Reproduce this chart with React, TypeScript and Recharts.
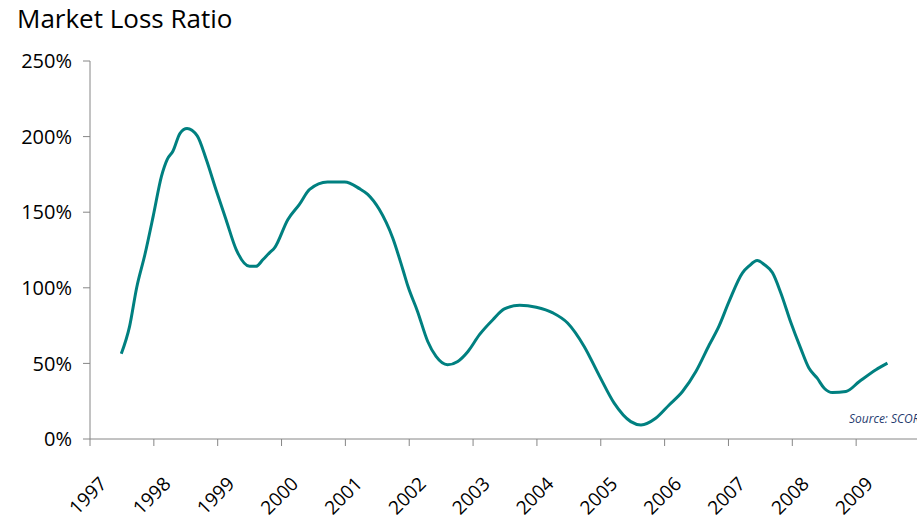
import { LineChart, Line, XAxis, YAxis } from "recharts";

// time positions (fractional years) and market loss ratio in %
const periods = [
  1997.49, 1997.62, 1997.73, 1997.86, 1997.99, 1998.12, 1998.21, 1998.3, 1998.41, 1998.52,
  1998.68, 1998.82, 1998.98, 1999.13, 1999.29, 1999.5, 1999.6, 1999.71, 1999.81, 1999.89,
  2000.1, 2000.28, 2000.44, 2000.72, 2000.99, 2001.22, 2001.35, 2001.53, 2001.74, 2001.9,
  2001.98, 2002.13, 2002.29, 2002.42, 2002.6, 2002.76, 2002.92, 2003.1, 2003.31, 2003.49,
  2003.73, 2003.99, 2004.25, 2004.48, 2004.74, 2004.98, 2005.21, 2005.47, 2005.63, 2005.86,
  2006.07, 2006.28, 2006.49, 2006.7, 2006.85, 2007.01, 2007.22, 2007.32, 2007.45, 2007.56,
  2007.69, 2007.82, 2007.98, 2008.13, 2008.26, 2008.39, 2008.5, 2008.63, 2008.84, 2009.05,
  2009.31, 2009.49,
];
const lossRatio = [
  56.4, 74.5, 99.9, 122, 147.4, 173.9, 185, 190.5, 202.2, 205.4,
  200.5, 185, 164, 145.2, 125.3, 114.2, 114.2, 118.7, 123.1, 126.4,
  145.2, 155.2, 165.1, 170, 170, 165.6, 161.8, 151.9, 133.1, 112.1,
  101, 84.4, 64.5, 54.6, 49.1, 51.3, 57.9, 69, 78.9, 86,
  88.4, 87.1, 83.4, 76.7, 61.2, 41.6, 23.7, 11.5, 9.3, 13.7,
  22.5, 31.4, 44.6, 62.3, 74.5, 91, 109.9, 114.3, 118, 115.4,
  109.9, 96.6, 76.7, 60.1, 46.9, 40.2, 33.6, 30.7, 31.4, 38,
  45.8, 50.2,
];
const years = [1997, 1998, 1999, 2000, 2001, 2002, 2003, 2004, 2005, 2006, 2007, 2008, 2009];
const yTicks = [0, 50, 100, 150, 200, 250];

const data = periods.map((t, i) => ({ t, ratio: lossRatio[i] }));

const FONT = "'Open Sans', sans-serif";

function YearTick({ x, y, payload }: any) {
  const ax = x + 18;
  const ay = y + 37;
  return (
    <text
      x={ax}
      y={ay}
      textAnchor="end"
      fontFamily={FONT}
      fontSize={19}
      fill="#000"
      transform={`rotate(-45 ${ax} ${ay})`}
    >
      {payload.value}
    </text>
  );
}

export default function App() {
  return (
    <div
      style={{
        position: "absolute",
        left: 0,
        top: 0,
        width: 917,
        height: 519,
        overflow: "hidden",
        background: "#fff",
        fontFamily: FONT,
      }}
    >
      <div
        style={{
          position: "absolute",
          left: 17,
          top: 5,
          fontSize: 26,
          lineHeight: "26px",
          color: "#000",
          whiteSpace: "nowrap",
        }}
      >
        Market Loss Ratio
      </div>
      <LineChart width={920} height={519} data={data} margin={{ top: 61, right: 0, bottom: 0, left: 0 }}>
        <XAxis
          dataKey="t"
          type="number"
          domain={[1997, 2010]}
          ticks={years}
          interval={0}
          height={80}
          tickSize={7}
          stroke="#868686"
          tick={<YearTick />}
        />
        <YAxis
          domain={[0, 250]}
          ticks={yTicks}
          width={90}
          tickSize={7}
          tickMargin={11}
          stroke="#868686"
          tick={{ fill: "#000", fontSize: 20, fontFamily: FONT }}
          tickFormatter={(v) => `${v}%`}
        />
        <Line
          type="monotone"
          dataKey="ratio"
          stroke="#008080"
          strokeWidth={3}
          dot={false}
          isAnimationActive={false}
        />
      </LineChart>
      <div
        style={{
          position: "absolute",
          left: 849,
          top: 413,
          fontSize: 12,
          lineHeight: "12px",
          fontStyle: "italic",
          color: "#1F3A6E",
          whiteSpace: "nowrap",
        }}
      >
        Source: SCOR
      </div>
    </div>
  );
}
